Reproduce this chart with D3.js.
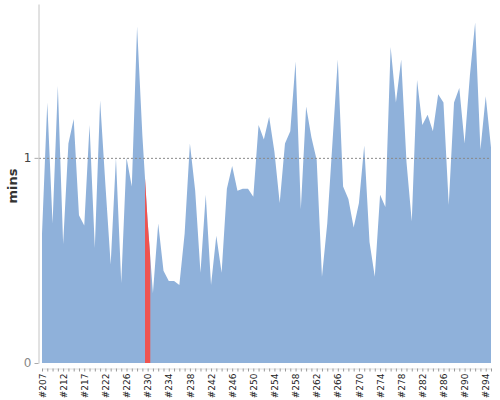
<!DOCTYPE html>
<head>
    <meta charset="utf-8">
    <script src="https://d3js.org/d3.v7.min.js"></script>
    <style>
        html, body { padding: 0; margin: 0; background: #fff; }
        svg { display: block; }
        .axis text { font-family: "DejaVu Sans", Verdana, sans-serif; }
    </style>
</head>

<body>
<svg width="500" height="400"></svg>
<script>
    var builds = [
        "#207","#208","#209","#210","#212","#213","#214","#215","#217","#218",
        "#219","#220","#222","#223","#224","#225","#226","#227","#228","#229",
        "#230","#231","#232","#233","#234","#235","#236","#237","#238","#239",
        "#240","#241","#242","#243","#244","#245","#246","#247","#248","#249",
        "#250","#251","#252","#253","#254","#255","#256","#257","#258","#259",
        "#260","#261","#262","#263","#264","#265","#266","#267","#268","#269",
        "#270","#271","#272","#273","#274","#275","#276","#277","#278","#279",
        "#280","#281","#282","#283","#284","#285","#286","#287","#288","#289",
        "#290","#291","#292","#293","#294","#295"
    ];
    var mins = [
        0.63, 1.27, 0.68, 1.35, 0.58, 1.07, 1.19, 0.72, 0.67, 1.16,
        0.56, 1.28, 0.87, 0.48, 1.00, 0.39, 1.00, 0.86, 1.64, 1.11,
        0.69, 0.34, 0.68, 0.45, 0.40, 0.40, 0.38, 0.63, 1.07, 0.84,
        0.44, 0.82, 0.38, 0.62, 0.44, 0.85, 0.96, 0.84, 0.85, 0.85,
        0.81, 1.16, 1.09, 1.20, 1.03, 0.78, 1.07, 1.13, 1.47, 0.75,
        1.25, 1.10, 0.99, 0.42, 0.68, 1.08, 1.48, 0.86, 0.80, 0.66,
        0.78, 1.06, 0.59, 0.42, 0.82, 0.76, 1.54, 1.27, 1.48, 0.98,
        0.69, 1.38, 1.16, 1.21, 1.13, 1.31, 1.27, 0.77, 1.27, 1.34,
        1.07, 1.40, 1.66, 1.04, 1.30, 1.05
    ];
    var highlighted = "#230";
    var yTicks = [0, 1];
    var yMax = 1.75;

    var svg = d3.select("svg");
    var data = builds.map(function(b, i) { return {build: b, mins: mins[i]}; });

    var xRange = d3.scalePoint()
        .domain(builds)
        .range([42, 491]);

    var yRange = d3.scaleLinear()
        .domain([0, yMax])
        .range([363, 4]);

    var area = d3.area()
        .x(function(d) { return xRange(d.build); })
        .y0(yRange(0))
        .y1(function(d) { return yRange(d.mins); });

    // highlight band for one build
    var step = xRange.step();
    svg.append("clipPath")
        .attr("id", "hl")
        .append("rect")
        .attr("x", xRange(highlighted) - step / 2)
        .attr("y", 0)
        .attr("width", step)
        .attr("height", 400);

    svg.append("path")
        .datum(data)
        .attr("fill", "#8fb1da")
        .attr("d", area);

    svg.append("path")
        .datum(data)
        .attr("fill", "#ef5450")
        .attr("clip-path", "url(#hl)")
        .attr("d", area);

    // dotted line at 1 min
    svg.append("line")
        .attr("x1", 39)
        .attr("x2", 491)
        .attr("y1", yRange(1) + 0.5)
        .attr("y2", yRange(1) + 0.5)
        .attr("stroke", "#888")
        .attr("stroke-width", 1)
        .attr("stroke-dasharray", "2,2");

    var yAxis = svg.append("g")
        .attr("class", "axis")
        .attr("transform", "translate(38.5,0)")
        .call(d3.axisLeft(yRange).tickValues(yTicks).tickSize(4).tickSizeOuter(0)
            .tickFormat(d3.format("d")));
    yAxis.select(".domain").attr("stroke", "#c4c4c4");
    yAxis.selectAll(".tick line").attr("stroke", "#aaa");
    yAxis.selectAll(".tick text")
        .attr("x", -7)
        .style("font-size", "12px")
        .attr("fill", function(d) { return d === 0 ? "#888" : "#444"; });

    var xAxis = svg.append("g")
        .attr("class", "axis")
        .attr("transform", "translate(0,368.5)")
        .call(d3.axisBottom(xRange).tickSize(3).tickSizeOuter(0)
            .tickFormat(function(d, i) { return i % 4 === 0 ? d : ""; }));
    xAxis.select(".domain").attr("stroke", "#ddd");
    xAxis.selectAll(".tick line").attr("stroke", "#999");
    xAxis.selectAll(".tick text")
        .attr("transform", "rotate(-90)")
        .attr("x", -5)
        .attr("y", 0)
        .attr("dy", "0.35em")
        .style("text-anchor", "end")
        .style("font-size", "9px")
        .attr("fill", "#222");

    svg.append("text")
        .attr("transform", "translate(17,186) rotate(-90)")
        .style("text-anchor", "middle")
        .style("font", "bold 13px 'DejaVu Sans', sans-serif")
        .attr("fill", "#333")
        .text("mins");
</script>
</body>
